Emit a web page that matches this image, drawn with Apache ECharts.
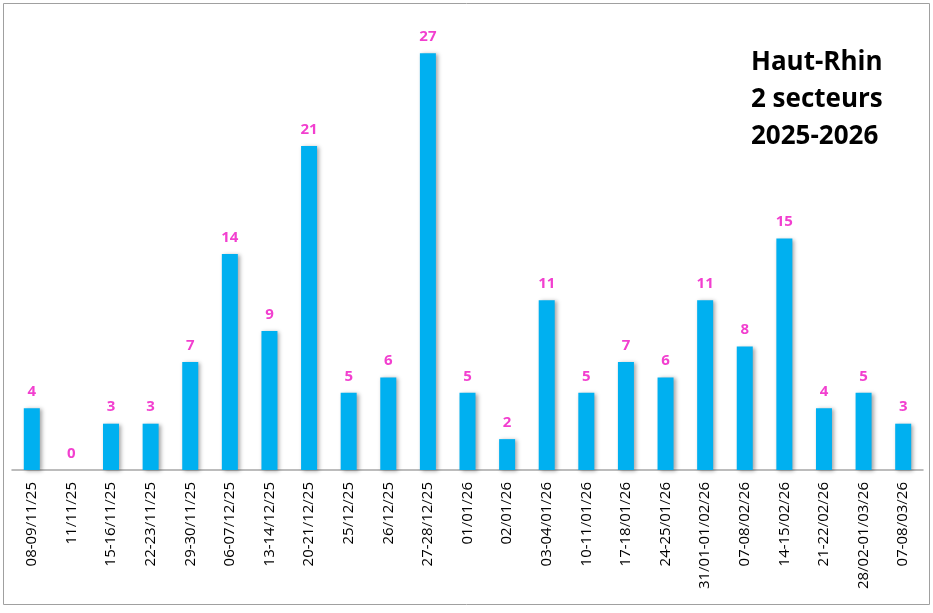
<!DOCTYPE html>
<html>
<head>
<meta charset="utf-8">
<script src="https://cdn.jsdelivr.net/npm/echarts@6/dist/echarts.min.js"></script>
<style>
html,body{margin:0;padding:0;background:#fff;}
#chart{width:933px;height:613px;}
</style>
</head>
<body>
<div id="chart"></div>
<script>
const categories = ["08-09/11/25","11/11/25","15-16/11/25","22-23/11/25","29-30/11/25","06-07/12/25","13-14/12/25","20-21/12/25","25/12/25","26/12/25","27-28/12/25","01/01/26","02/01/26","03-04/01/26","10-11/01/26","17-18/01/26","24-25/01/26","31/01-01/02/26","07-08/02/26","14-15/02/26","21-22/02/26","28/02-01/03/26","07-08/03/26"];
const values = [4,0,3,3,7,14,9,21,5,6,27,5,2,11,5,7,6,11,8,15,4,5,3];
const titleLines = ["Haut-Rhin","2 secteurs","2025-2026"];

const chart = echarts.init(document.getElementById('chart'));
chart.setOption({
  animation:false,
  backgroundColor:'#fff',
  grid:{left:12,right:10,top:7,bottom:143,containLabel:false},
  graphic:[
    {type:'rect',shape:{x:3.5,y:3.5,width:926,height:601},style:{fill:'none',stroke:'#A0A0A0',lineWidth:1},silent:true},
    {type:'text',left:751,top:44,style:{text:titleLines.join('\n'),font:'bold 26px "Open Sans"',lineHeight:37,fill:'#000'}}
  ],
  xAxis:{
    type:'category',
    data:categories,
    axisLine:{lineStyle:{color:'#A6A6A6',width:1.5}},
    axisTick:{show:false},
    axisLabel:{rotate:90,interval:0,margin:12,color:'#000',fontSize:15,fontFamily:'Open Sans'}
  },
  yAxis:{type:'value',min:0,max:30,show:false,splitLine:{show:false}},
  series:[{
    type:'bar',
    data:values,
    barWidth:16,
    itemStyle:{color:'#00B0F0',shadowColor:'rgba(0,0,0,0.35)',shadowBlur:4,shadowOffsetX:2,shadowOffsetY:1},
    label:{show:true,position:'top',distance:9,color:'#F23FCF',fontWeight:'bold',fontSize:15,fontFamily:'Open Sans'}
  }]
});
</script>
</body>
</html>
